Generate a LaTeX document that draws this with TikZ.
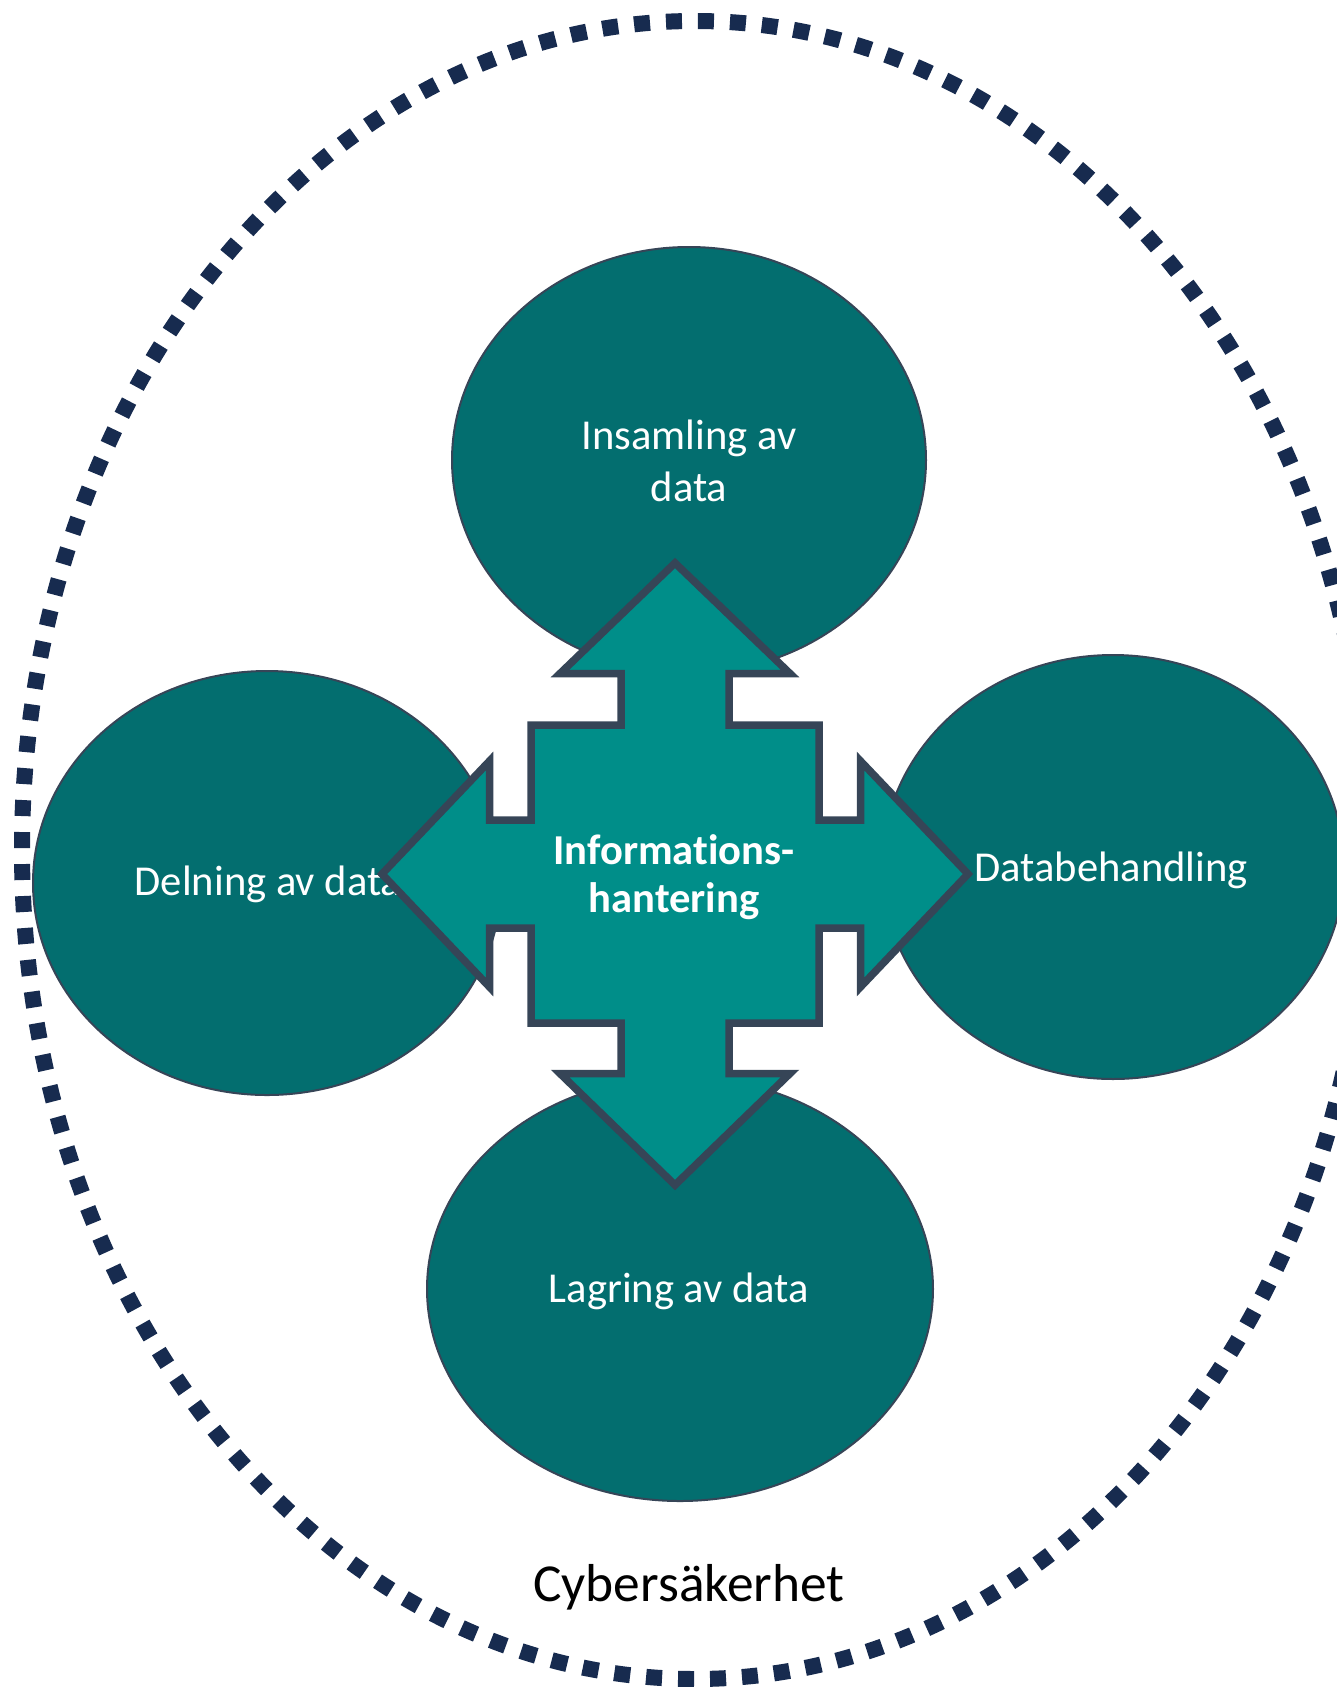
\documentclass[tikz,border=0pt]{standalone}
\usepackage{fontspec}
\setmainfont{Carlito}[Ligatures=NoCommon]
\usepackage{tikz}
\usetikzlibrary{positioning}
\definecolor{tealdark}{RGB}{3,110,111}
\definecolor{tealmid}{RGB}{0,142,137}
\definecolor{slate}{RGB}{54,69,87}
\definecolor{navy}{RGB}{23,43,79}

\begin{document}
\begin{tikzpicture}[x=0.5pt, y=-0.5pt,
  bubble/.style={fill=tealdark, draw=slate, line width=1pt},
  lbl/.style={text=white, align=center, font=\fontsize{21.3pt}{25.8pt}\selectfont},
  quad/.style={fill=tealmid, draw=slate, line width=3.75pt, line join=miter}]
\useasboundingbox (0,0) rectangle (1337,1687);
\draw[navy, line width=8pt, dash pattern=on 8pt off 8pt] (695,850) ellipse (673 and 829);
\draw[bubble](689,460)  ellipse (237 and 213);
\draw[bubble](267,883)  ellipse (234 and 212);
\draw[bubble](1113,867) ellipse (231 and 212);
\draw[bubble](680,1289) ellipse (253 and 212);
\node[lbl](ins) at (689,461){Insamling av\\data};
\node[lbl](deln) at (268,884){Delning av data};
\node[lbl](datab) at (1111,870){Databehandling};
\node[lbl](lagr) at (679,1291){Lagring av data};
% informationshantering: fyra pilar
\draw[quad](675,563)--(790,673.5)--(729,673.5)--(729,725)--(819,725)--(819,820)
  --(860.5,820)--(860.5,761)--(968,874)--(860.5,987)--(860.5,928)--(819,928)
  --(819,1023)--(729,1023)--(729,1073.5)--(790,1073.5)--(675,1185)--(560,1073.5)
  --(621,1073.5)--(621,1023)--(531,1023)--(531,928)--(489.5,928)--(489.5,987)
  --(382,874)--(489.5,761)--(489.5,820)--(531,820)--(531,725)--(621,725)
  --(621,673.5)--(560,673.5)--cycle;
\node[lbl, font=\bfseries\fontsize{21.3pt}{24.2pt}\selectfont](info) at (674,877){Informations-\\hantering};
\node[font=\fontsize{26.7pt}{31pt}\selectfont](cyber) at (689,1587){Cybersäkerhet};
\end{tikzpicture}
\end{document}
